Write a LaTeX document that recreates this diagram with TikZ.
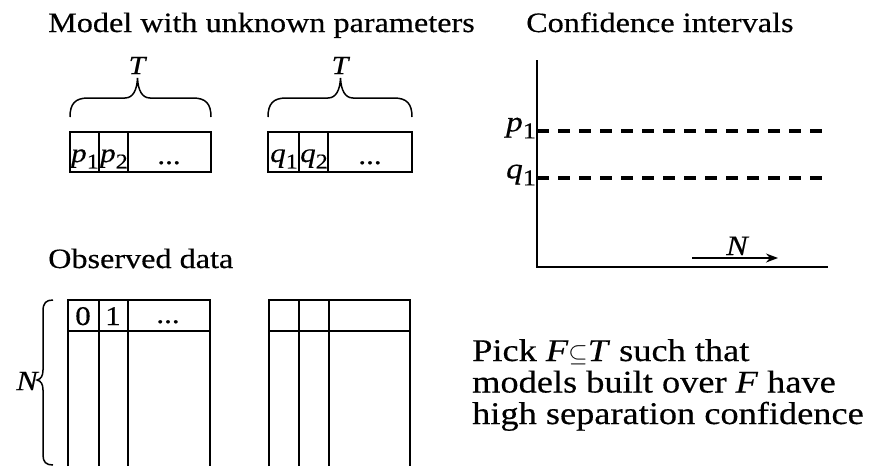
\documentclass[tikz,border=0pt]{standalone}
\usepackage{fontspec}
\setmainfont{Liberation Serif}[FakeStretch=1.15, FakeBold=0.4]
\usetikzlibrary{arrows.meta}
\newcommand\ivar[2]{\textit{#1}\raisebox{-0.24em}{\scalebox{0.78}{#2}}}
\begin{document}
\begin{tikzpicture}[x=1pt,y=-1pt,
  frame/.style={line width=1.5pt},
  dashline/.style={line width=3.2pt, dash pattern=on 12pt off 9pt},
  brc/.style={line width=1.5pt},
  ttl/.style={font=\fontsize{28}{32}\selectfont, anchor=base west, inner sep=0},
  big/.style={font=\fontsize{31.6}{31.5}\selectfont, anchor=base west, inner sep=0, align=left},
  lbl/.style={font=\fontsize{27}{30}\selectfont, anchor=base, inner sep=0},
  axl/.style={font=\fontsize{29}{30}\selectfont, anchor=east, inner sep=0}
]
\useasboundingbox (0,0) rectangle (869,466);

% titles
\node[ttl] (t1) at (48,32) {Model with unknown parameters};
\node[ttl] (t2) at (526,32) {Confidence intervals};
\node[ttl] (t3) at (48,268) {Observed data};

% top boxes
\draw[frame] (70,132) rectangle (211,172);
\draw[frame] (99,132) -- (99,172) (128,132) -- (128,172);
\draw[frame] (268,132) rectangle (412,172);
\draw[frame] (299,132) -- (299,172) (328,132) -- (328,172);
\node[lbl] (p1) at (85,162) {\ivar{p}{1}};
\node[lbl] (p2) at (114,162) {\ivar{p}{2}};
\node[lbl] (pd) at (169,164) {...};
\node[lbl] (q1) at (284,162) {\ivar{q}{1}};
\node[lbl] (q2) at (314,162) {\ivar{q}{2}};
\node[lbl] (qd) at (370,164) {...};

% braces
\draw[brc] (70,117) .. controls (70,104) and (75,98) .. (88,98) -- (125,98)
  .. controls (133,98) and (137,90) .. (137.5,78)
  .. controls (138,90) and (142,98) .. (150,98) -- (193,98)
  .. controls (206,98) and (211,104) .. (211,117);
\draw[brc] (268,117) .. controls (268,104) and (273,98) .. (286,98) -- (328,98)
  .. controls (336,98) and (340,90) .. (340.5,78)
  .. controls (341,90) and (345,98) .. (353,98) -- (394,98)
  .. controls (407,98) and (412,104) .. (412,117);
\node[lbl, font=\fontsize{26}{30}\selectfont\itshape] (T1) at (137,74) {T};
\node[lbl, font=\fontsize{26}{30}\selectfont\itshape] (T2) at (340,74) {T};

% chart
\coordinate (ytop) at (537,60);
\coordinate (org) at (537,267);
\coordinate (xend) at (828,267);
\draw[line width=1.6pt] (ytop) -- (org) -- (xend);
\coordinate (pa) at (537,131);
\coordinate (pb) at (822,131);
\coordinate (qa) at (537,178);
\coordinate (qb) at (822,178);
\draw[dashline] (pa) -- (pb);
\draw[dashline] (qa) -- (qb);
\node[axl] (cp) at (536,128) {\ivar{p}{1}};
\node[axl] (cq) at (536,175) {\ivar{q}{1}};
\coordinate (na) at (692,258);
\coordinate (nb) at (778,258);
\draw[line width=1.5pt, -{Stealth[length=12pt,width=9pt]}] (na) -- (nb);
\node[lbl, font=\fontsize{28}{30}\selectfont\itshape] (Nx) at (737,255) {N};

% bottom tables
\draw[frame] (68,466) -- (68,300) -- (210,300) -- (210,466);
\draw[frame] (68,331) -- (210,331);
\draw[frame] (99,300) -- (99,466) (128,300) -- (128,466);
\draw[frame] (269,466) -- (269,300) -- (410,300) -- (410,466);
\draw[frame] (269,331) -- (410,331);
\draw[frame] (299,300) -- (299,466) (329,300) -- (329,466);
\node[lbl] (d0) at (83,325) {0};
\node[lbl] (d1) at (113,325) {1};
\node[lbl] (dd) at (168,323) {...};

% N brace
\draw[brc] (53,300) .. controls (46,300) and (43,303) .. (43,311) -- (43,370)
  .. controls (43,376) and (41,379) .. (37,380)
  .. controls (41,381) and (43,384) .. (43,390) -- (43,455)
  .. controls (43,462) and (46,465) .. (53,465);
\node[lbl, font=\fontsize{28}{30}\selectfont\itshape, anchor=center] (Ny) at (27,381) {N};

% text
\node[big] (pick) at (472,424) {Pick \textit{F}$\subseteq$\textit{T} such that\\models built over \textit{F} have\\high separation confidence};
\end{tikzpicture}
\end{document}
